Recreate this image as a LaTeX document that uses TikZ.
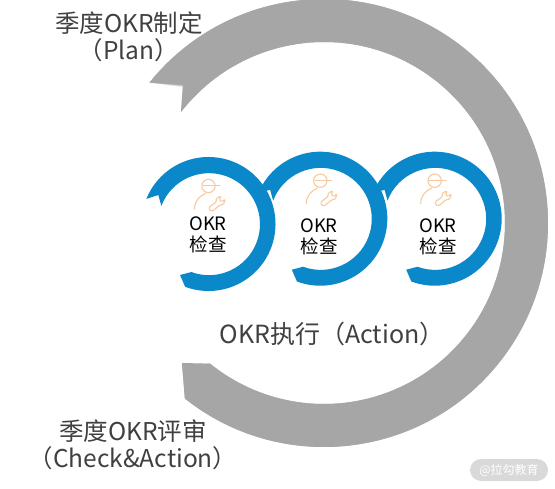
\documentclass[tikz,border=0pt]{standalone}
\usepackage{xcolor}
\usepackage{fontspec}
\setmainfont{Noto Sans CJK SC}
\definecolor{loopgray}{HTML}{A6A6A6}
\definecolor{loopblue}{HTML}{0A88C9}
\definecolor{icoorg}{HTML}{F8C89E}
\definecolor{textdark}{HTML}{404040}
\definecolor{pillgray}{HTML}{D9D9D9}
\usepackage{tikz}
\usetikzlibrary{positioning,calc}
\tikzset{
  labelbig/.style={font=\fontsize{24.5}{27}\selectfont, text=textdark, align=center, inner sep=0pt},
  labelchk/.style={font=\fontsize{18.5}{22}\selectfont, text=black, align=center, inner sep=0pt},
  pillmark/.style={rectangle, rounded corners=11pt, fill=pillgray, text=white,
    minimum width=78pt, minimum height=22pt, inner sep=0pt, font=\fontsize{12}{14}\selectfont},
  iconline/.style={draw=icoorg, line width=1.1pt, line cap=round, line join=round},
  checkring/.pic={
    \fill[loopblue] (249.6:67pt) arc[start angle=249.6, end angle=518, radius=67pt]
      -- (-50.2pt,29pt) -- (159:50.5pt) arc[start angle=519, end angle=249.8, radius=51pt]
      -- (-28.5pt,-51pt) -- cycle;
    \draw[iconline] (0pt,38pt) circle[radius=6.7pt];
    \draw[iconline] (-5.5pt,38.5pt) -- (11.5pt,38.5pt);
    \draw[iconline] (-14pt,15pt) .. controls (-14pt,23pt) and (-9pt,28pt) .. (-3pt,30.5pt);
    \draw[iconline, rounded corners=1pt] (0.7pt,17pt) -- (7.7pt,22pt) -- (7.7pt,25.3pt)
      -- (12.3pt,28pt) -- (11pt,23.7pt) -- (13.3pt,22.3pt) -- (16.7pt,24.7pt) -- (15pt,19.7pt)
      -- (11pt,18.7pt) -- (4.3pt,13pt) -- (1pt,13.7pt) -- cycle;
  },
}

\begin{document}
\begin{tikzpicture}[x=1pt,y=1pt]
  \useasboundingbox (0,0) rectangle (555,488);
  \coordinate (gc) at (324,265);
  % big loop, soft edge first
  \foreach \dy/\op in {2.5/0.15,1.5/0.25,0.7/0.35}{
    \fill[black!45, opacity=\op, yshift=-\dy pt] ($(gc)+(231.6:224pt)$) arc[start angle=231.6, end angle=501.2, radius=224pt]
      -- (183,403) -- ($(gc)+(142.2:181pt)$) arc[start angle=502.2, end angle=231, radius=181pt]
      -- (182,125) -- cycle;
  }
  \fill[loopgray] ($(gc)+(231.6:224pt)$) arc[start angle=231.6, end angle=501.2, radius=224pt]
    -- (183,403) -- ($(gc)+(142.2:181pt)$) arc[start angle=502.2, end angle=231, radius=181pt]
    -- (182,125) -- cycle;

  \pic at (434.7,269.3) {checkring};
  \pic at (320.3,269.3) {checkring};
  \pic at (208.5,264) {checkring};

  \node[labelchk] (chk1) at (208,253) {OKR\\[-0.5pt]检查};
  \node[labelchk] (chk2) at (319,251) {OKR\\[-0.5pt]检查};
  \node[labelchk] (chk3) at (438,251) {OKR\\[-0.5pt]检查};

  \node[labelbig] (plan) at (129,451.5) {季度OKR制定\\（Plan）};
  \node[labelbig, font=\fontsize{25}{27}\selectfont] (act) at (332,154) {OKR执行（Action）};
  \node[labelbig] (check) at (133,43.5) {季度OKR评审\\（Check\&Action）};
  \node[pillmark] (mark) at (509,18) {@拉勾教育};
\end{tikzpicture}
\end{document}
